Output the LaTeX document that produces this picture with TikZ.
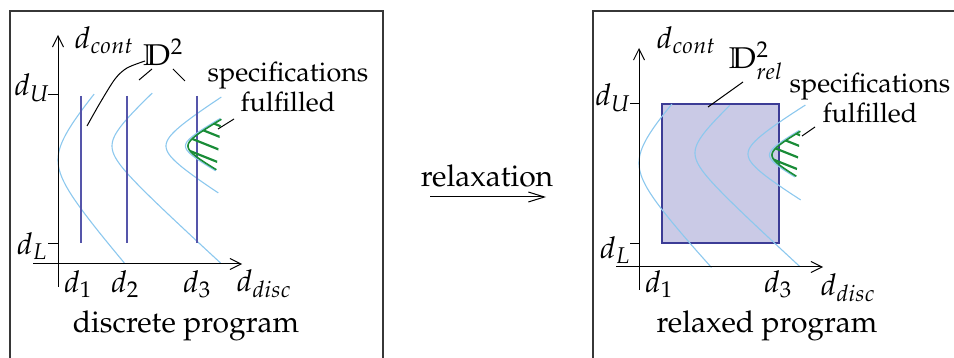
\documentclass[tikz,border=0pt]{standalone}
\usepackage[T1]{fontenc}
\usepackage{mathpazo}
\usetikzlibrary{arrows.meta}
\definecolor{framec}{RGB}{55,55,55}
\definecolor{dblue}{RGB}{85,85,170}
\definecolor{lblue}{RGB}{140,200,238}
\definecolor{sgreen}{RGB}{25,140,55}
\definecolor{relfill}{RGB}{202,202,230}
\definecolor{relline}{RGB}{60,60,150}
% hyperbola: vertex (#1,#2), a=#3, b=#4, t from #5 to #6
\newcommand{\hypplot}[6]{plot[domain=#5:#6,samples=40,variable=\t,smooth] ({#1+#3*(cosh(\t)-1)},{#2+#4*sinh(\t)})}
\begin{document}
\begin{tikzpicture}[x=1pt,y=-1pt,
  font=\fontsize{30}{36}\selectfont,
  frame/.style={framec,line width=1.6pt},
  axis/.style={black,line width=1pt,-{Straight Barb[length=11pt,width=11pt]}},
  tickmark/.style={black,line width=1pt},
  hyp/.style={lblue,line width=1.1pt},
  dline/.style={dblue,line width=1.4pt},
  leader/.style={black,line width=1pt},
  greenc/.style={sgreen,line width=1.6pt},
  hatch/.style={sgreen,line width=2.2pt},
  lbl/.style={inner sep=0pt},
  spec/.style={inner sep=0pt,align=center,font=\fontsize{27}{31}\selectfont}]
\useasboundingbox (0,0) rectangle (954,358);
\clip (0,0) rectangle (954,358);

% ---------------- left panel ----------------
\draw[frame] (10,11) rectangle (383,380);
% hyperbola-like curves
\draw[hyp] \hypplot{58}{160}{28}{32}{-1.47}{1.886};
\draw[hyp] \hypplot{112}{146}{22}{20}{-1.7}{2.467};
\draw[hyp] \hypplot{166}{146}{27}{17}{-1.78}{1.74};
% discrete lines
\draw[dline] (81,96) -- (81,243);
\draw[dline] (127,96) -- (127,243);
\draw[dline] (197,96) -- (197,243);
% specification region
\draw[hyp] \hypplot{185.5}{146}{18}{10}{-1.74}{1.64};
\begin{scope}
\clip \hypplot{188}{146}{18}{10}{-1.71}{1.6} -- cycle;
\foreach \ye in {126,137,150,163} \draw[hatch] (170,\ye-20) -- (222,\ye+0.8);
\end{scope}
\draw[greenc] \hypplot{188}{146}{18}{10}{-1.71}{1.6};
% axes
\coordinate (yL0) at (58,287); \coordinate (yL1) at (58,35);
\coordinate (xL0) at (33,264); \coordinate (xL1) at (242,264);
\draw[axis] (yL0) -- (yL1);
\draw[axis] (xL0) -- (xL1);
\draw[tickmark] (48,95) -- (58,95);
\draw[tickmark] (48,244) -- (58,244);
% labels
\node[lbl] (dcontL) at (104,40) {$d_{cont}$};
\node[lbl] (DL) at (163,52) {$\mathbb{D}^2$};
\node[lbl] (dUL) at (32,88) {$d_U$};
\node[lbl] (dLL) at (32,246) {$d_L$};
\node[lbl] (d1L) at (78,284) {$d_1$};
\node[lbl] (d2L) at (125,284) {$d_2$};
\node[lbl] (d3L) at (197,284) {$d_3$};
\node[lbl] (ddiscL) at (264,284) {$d_{disc}$};
\node[spec] (specL) at (288,87) {specifications\\[-1pt]fulfilled};
\node[lbl] (progL) at (186,326) {discrete program};
% leaders
\coordinate (lD0) at (145,61); \coordinate (lD1) at (87,126);
\draw[leader] plot[smooth] coordinates {(lD0) (127,68) (115,79) (100,103) (lD1)};
\coordinate (lDa0) at (139,80); \coordinate (lDa1) at (152,69);
\coordinate (lDb0) at (173,69); \coordinate (lDb1) at (185,81);
\draw[leader] (lDa0) -- (lDa1);
\draw[leader] (lDb0) -- (lDb1);
\coordinate (lS0) at (234,119); \coordinate (lS1) at (218,129);
\draw[leader] (lS0) -- (lS1);

% ---------------- middle ----------------
\node[lbl] (relax) at (487,176) {relaxation};
\coordinate (rA0) at (430,197); \coordinate (rA1) at (546,197);
\draw[black,line width=1pt,-{Straight Barb[length=16pt,width=10pt]}] (rA0) -- (rA1);

% ---------------- right panel ----------------
\draw[frame] (593,11) rectangle (966,380);
\draw[relline,line width=1.2pt,fill=relfill] (662,104) rectangle (779,243);
\draw[hyp] \hypplot{639}{163}{30}{32}{-1.37}{1.90};
\draw[hyp] \hypplot{695}{153}{22}{20}{-1.6}{2.44};
\draw[hyp] \hypplot{748}{154}{28}{17}{-1.78}{1.72};
\draw[hyp] \hypplot{769.5}{155}{18}{10}{-1.63}{1.53};
\begin{scope}
\clip \hypplot{772}{155}{18}{10}{-1.6}{1.5} -- cycle;
\foreach \ye in {136,147,159,171} \draw[hatch] (752,\ye-20) -- (804,\ye+0.8);
\end{scope}
\draw[greenc] \hypplot{772}{155}{18}{10}{-1.6}{1.5};
\coordinate (yR0) at (639,290); \coordinate (yR1) at (639,48);
\coordinate (xR0) at (616,267); \coordinate (xR1) at (823,267);
\draw[axis] (yR0) -- (yR1);
\draw[axis] (xR0) -- (xR1);
\draw[tickmark] (630,104) -- (639,104);
\draw[tickmark] (630,244) -- (639,244);
\node[lbl] (dcontR) at (686,40) {$d_{cont}$};
\node[lbl] (DR) at (756,61) {$\mathbb{D}^2_{rel}$};
\node[lbl] (dUR) at (613,98) {$d_U$};
\node[lbl] (dLR) at (615,250) {$d_L$};
\node[lbl] (d1R) at (659,284) {$d_1$};
\node[lbl] (d3R) at (778,284) {$d_3$};
\node[lbl] (ddiscR) at (848,288) {$d_{disc}$};
\node[spec] (specR) at (870,98) {specifications\\[-1pt]fulfilled};
\node[lbl] (progR) at (767,326) {relaxed program};
\coordinate (lR0) at (743,82); \coordinate (lR1) at (708,107);
\draw[leader] (lR0) -- (lR1);
\coordinate (lSR0) at (815,127); \coordinate (lSR1) at (802,136);
\draw[leader] (lSR0) -- (lSR1);
\end{tikzpicture}
\end{document}
